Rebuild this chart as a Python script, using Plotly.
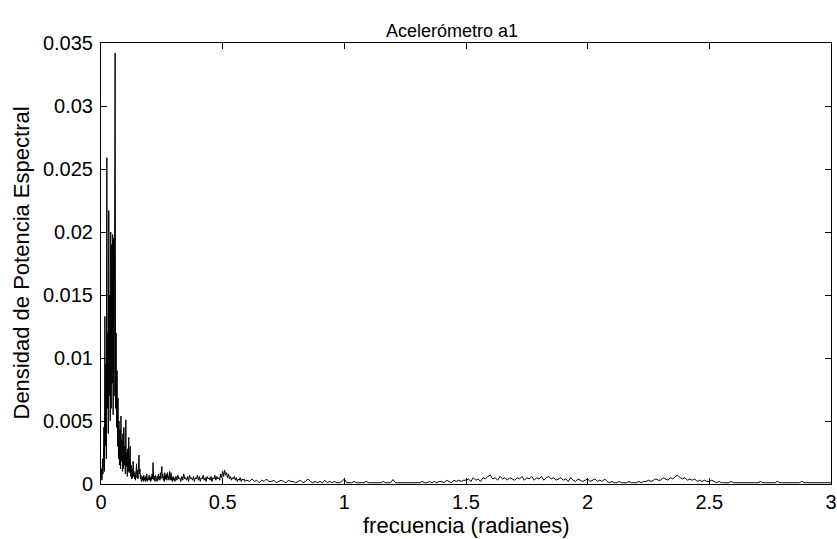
import numpy as np
import plotly.graph_objects as go

# Power spectral density values, in units of 1e-4
# Segment 1: frequency 0 .. 0.298 rad, step 0.002
low_step = 0.002
psd_low_e4 = [
    5, 12, 3, 20, 8, 16, 45, 10, 133, 30,
    95, 20, 259, 60, 120, 40, 217, 70, 150, 50,
    200, 60, 190, 80, 198, 55, 195, 70, 180, 342,
    60, 120, 45, 90, 30, 68, 20, 50, 15, 43,
    12, 54, 18, 35, 10, 40, 12, 45, 15, 30,
    8, 51, 14, 25, 6, 28, 10, 37, 9, 22,
    30, 6, 15, 4, 12, 5, 18, 6, 10, 4,
    9, 3, 8, 16, 5, 11, 4, 14, 23, 8,
    12, 4, 7, 2, 5, 3, 6, 2, 7, 3,
    5, 2, 6, 3, 8, 2, 5, 3, 4, 7,
    3, 5, 2, 6, 3, 8, 4, 17, 5, 3,
    6, 2, 7, 4, 5, 2, 6, 3, 8, 4,
    6, 3, 9, 4, 7, 14, 5, 8, 3, 6,
    2, 9, 4, 7, 3, 8, 5, 9, 3, 6,
    4, 10, 3, 7, 9, 3, 5, 2, 6, 3,
]
# Segment 2: frequency 0.300 .. 0.596 rad, step 0.004
mid_start = 0.30
mid_step = 0.004
psd_mid_e4 = [
    5, 2, 6, 3, 7, 4, 5, 2, 6, 3, 8, 4, 5, 3, 6, 2, 7, 4, 5, 3, 6, 2, 5, 4, 7,
    3, 6, 2, 5, 4, 7, 3, 5, 2, 6, 4, 5, 3, 6, 2, 5, 4, 7, 3, 6, 4, 5, 3, 8, 5,
    10, 6, 11, 7, 9, 5, 8, 4, 6, 3, 5, 4, 6, 3, 5, 2, 4, 3, 5, 2, 4, 3, 4, 2, 3,
]
# Segment 3: frequency 0.60 .. 3.00 rad, step 0.01
high_start = 0.60
high_step = 0.01
psd_high_e4 = [
    3, 2, 4, 2, 3, 1, 3, 2, 4, 2,
    2, 3, 1, 2, 3, 2, 1, 3, 2, 2,
    1, 2, 3, 1, 2, 4, 2, 1, 2, 1,
    2, 1, 3, 1, 2, 1, 2, 1, 1, 2,
    4, 1, 1, 1, 2, 1, 1, 1, 1, 2,
    1, 1, 1, 1, 1, 1, 2, 1, 1, 1,
    3.5, 1, 1, 1, 1, 1, 1, 1, 1, 1,
    1, 1, 2, 1, 1, 2, 1, 2, 1, 2,
    2, 1, 3, 2, 1, 3, 2, 3, 2, 3,
    3, 4, 2, 5, 3, 4, 2, 5, 4, 6,
    7, 4, 5, 3, 6, 4, 5, 3, 5, 4,
    3, 5, 4, 6, 3, 5, 4, 6, 3, 5,
    4, 6, 3, 5, 6, 4, 5, 3, 4, 5,
    3, 4, 2, 5, 3, 2, 4, 3, 2, 3,
    4, 2, 3, 4, 2, 3, 2, 4, 2, 1,
    2, 1, 1, 2, 1, 1, 1, 2, 1, 1,
    1, 2, 1, 2, 2, 3, 2, 3, 4, 3,
    3, 5, 4, 3, 5, 4, 6, 7, 5, 4,
    5, 3, 4, 3, 4, 2, 3, 2, 3, 2,
    2, 3, 2, 1, 2, 1, 1, 1, 1, 2,
    1, 1, 1, 1, 1, 1, 1, 1, 1, 1,
    1, 2, 1, 1, 1, 1, 1, 1, 2, 1,
    1, 1, 1, 1, 1, 1, 1, 1, 2, 1,
    1, 1, 1, 1, 1, 1, 1, 1, 1, 1, 1,
]

x_ticks = [0, 0.5, 1, 1.5, 2, 2.5, 3]
x_tick_labels = ["0", "0.5", "1", "1.5", "2", "2.5", "3"]
y_ticks = [0, 0.005, 0.01, 0.015, 0.02, 0.025, 0.03, 0.035]
y_tick_labels = ["0", "0.005", "0.01", "0.015", "0.02", "0.025", "0.03", "0.035"]

freq = np.concatenate([
    low_step * np.arange(len(psd_low_e4)),
    mid_start + mid_step * np.arange(len(psd_mid_e4)),
    high_start + high_step * np.arange(len(psd_high_e4)),
])
psd = np.array(psd_low_e4 + psd_mid_e4 + psd_high_e4, dtype=float) * 1e-4

FONT = "Liberation Sans, Arial, sans-serif"
L, R, T, B = 101, 6, 43, 55
W, H = 837, 539
plot_w = W - L - R
plot_h = H - T - B

fig = go.Figure()
fig.add_trace(go.Scatter(x=freq, y=psd, mode="lines",
                         line=dict(color="black", width=1), hoverinfo="skip",
                         showlegend=False))

axis_common = dict(showline=True, linecolor="black", linewidth=1, mirror="ticks",
                   ticks="inside", ticklen=6, tickcolor="black", tickwidth=1,
                   showgrid=False, zeroline=False, ticklabeloverflow="allow",
                   tickfont=dict(family=FONT, size=20, color="black"))

fig.update_layout(
    width=W, height=H,
    paper_bgcolor="white", plot_bgcolor="white",
    margin=dict(l=L, r=R, t=T, b=B, autoexpand=False),
    title=dict(text="Acelerómetro a1", x=452 / W, xanchor="center",
               y=1 - 31 / H, yanchor="middle", yref="container",
               font=dict(family=FONT, size=18, color="black")),
    xaxis=dict(range=[0, 3], tickvals=x_ticks, ticktext=x_tick_labels,
               **axis_common),
    yaxis=dict(range=[0, 0.035], tickvals=y_ticks, ticktext=y_tick_labels,
               ticklabelstandoff=3, **axis_common),
    annotations=[
        dict(text="frecuencia (radianes)", xref="paper", yref="paper",
             x=0.5, y=(T + plot_h - 525) / plot_h, xanchor="center", yanchor="middle",
             showarrow=False, font=dict(family=FONT, size=22, color="black")),
        dict(text="Densidad de Potencia Espectral", xref="paper", yref="paper",
             x=(21 - L) / plot_w, y=0.5, xanchor="center", yanchor="middle",
             textangle=-90, showarrow=False,
             font=dict(family=FONT, size=22, color="black")),
    ],
)

fig.write_html("out.html", config={"displayModeBar": False},
               post_script="document.body.style.margin='0';"
                           "document.body.style.overflow='hidden';")
